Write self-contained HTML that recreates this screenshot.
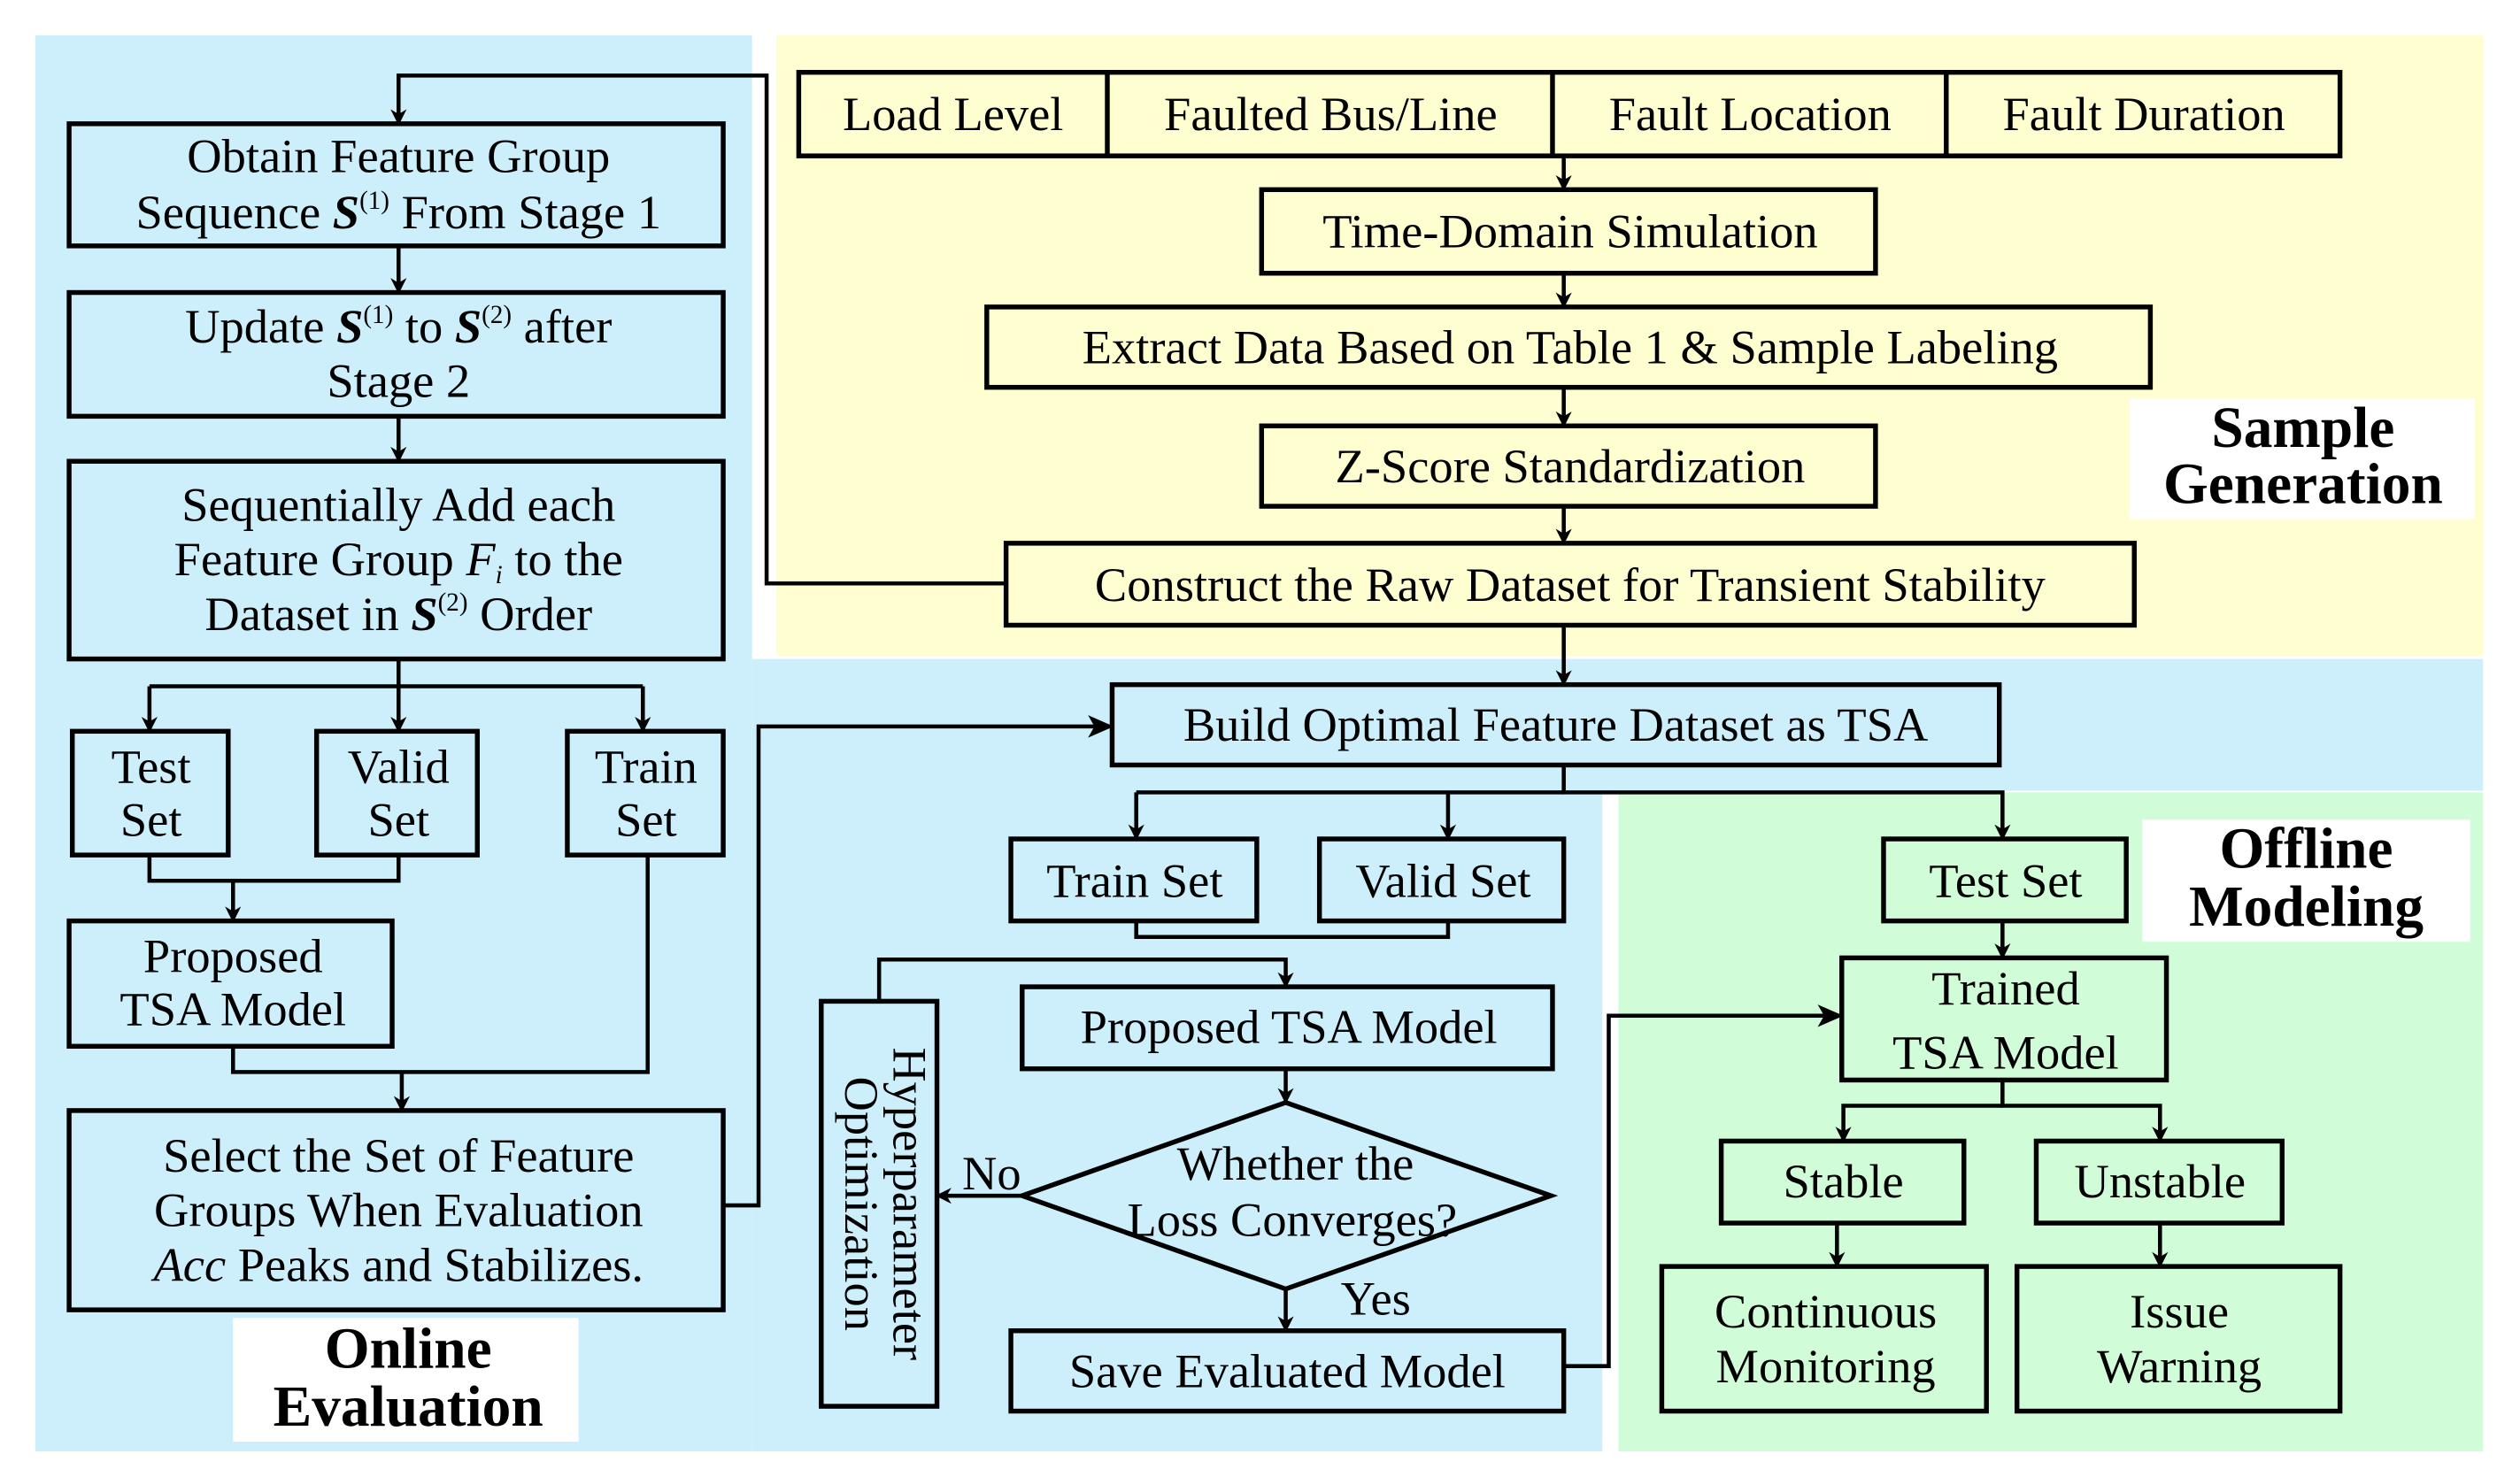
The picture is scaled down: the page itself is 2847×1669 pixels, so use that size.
<!DOCTYPE html>
<html><head><meta charset="utf-8"><style>
html,body{margin:0;padding:0;background:#fff;}
svg{display:block;}
text{font-family:"Liberation Serif",serif;font-size:30px;fill:#000;}
.b{font-weight:bold;font-size:36px;}
</style></head><body>
<svg width="2847" height="1669" viewBox="0 0 1568 919" preserveAspectRatio="none" xmlns="http://www.w3.org/2000/svg">
<defs><marker id="a" markerWidth="10" markerHeight="10" refX="9" refY="5" orient="auto" markerUnits="userSpaceOnUse"><path d="M0,0 L10,5 L0,10 L3,5 z" fill="#000"/></marker>
<marker id="m" markerWidth="16" markerHeight="14" refX="15" refY="7" orient="auto" markerUnits="userSpaceOnUse"><path d="M0,0 L16,7 L0,14 L4,7 z" fill="#000"/></marker></defs>
<rect x="22" y="22" width="446" height="881" fill="#cdeffb"/>
<rect x="468" y="410" width="1077" height="82" fill="#cdeffb"/>
<rect x="468" y="490" width="529" height="413" fill="#cdeffb"/>
<rect x="483" y="22" width="1062" height="386" fill="#fefed0"/>
<rect x="1007" y="493" width="538" height="410" fill="#d0fdd8"/>
<rect x="1325" y="248" width="215" height="75" fill="#fff"/>
<rect x="1333" y="510" width="204" height="76" fill="#fff"/>
<rect x="145" y="820" width="215" height="77" fill="#fff"/>
<text class="b" x="1433" y="278" text-anchor="middle">Sample</text>
<text class="b" x="1433" y="313" text-anchor="middle">Generation</text>
<text class="b" x="1435" y="540" text-anchor="middle">Offline</text>
<text class="b" x="1435" y="576" text-anchor="middle">Modeling</text>
<text class="b" x="254" y="851" text-anchor="middle">Online</text>
<text class="b" x="254" y="887" text-anchor="middle">Evaluation</text>
<g fill="none" stroke="#000" stroke-width="3">
<rect x="497" y="45" width="959" height="52"/>
<line x1="689" y1="45" x2="689" y2="97"/><line x1="966" y1="45" x2="966" y2="97"/><line x1="1211" y1="45" x2="1211" y2="97"/>
<rect x="785" y="118" width="382" height="52"/>
<rect x="614" y="191" width="724" height="50"/>
<rect x="785" y="265" width="382" height="50"/>
<rect x="626" y="338" width="702" height="51"/>
<rect x="692" y="426" width="552" height="50"/>
<rect x="629" y="522" width="153" height="51"/>
<rect x="821" y="522" width="152" height="51"/>
<rect x="1172" y="522" width="151" height="51"/>
<rect x="636" y="614" width="330" height="51"/>
<polygon points="800,686 965,744 800,802 636,744"/>
<rect x="629" y="828" width="344" height="50"/>
<rect x="511" y="623" width="72" height="252"/>
<rect x="1146" y="596" width="202" height="76"/>
<rect x="1071" y="710" width="151" height="51"/>
<rect x="1267" y="710" width="153" height="51"/>
<rect x="1034" y="788" width="202" height="90"/>
<rect x="1255" y="788" width="201" height="90"/>
<rect x="43" y="77" width="407" height="76"/>
<rect x="43" y="182" width="407" height="77"/>
<rect x="43" y="287" width="407" height="123"/>
<rect x="45" y="455" width="97" height="77"/>
<rect x="197" y="455" width="100" height="77"/>
<rect x="353" y="455" width="97" height="77"/>
<rect x="43" y="573" width="201" height="78"/>
<rect x="43" y="691" width="407" height="124"/>
</g>
<g fill="none" stroke="#000" stroke-width="2.5">
<path d="M973,97 V118" marker-end="url(#a)"/>
<path d="M973,170 V191" marker-end="url(#a)"/>
<path d="M973,241 V265" marker-end="url(#a)"/>
<path d="M973,315 V338" marker-end="url(#a)"/>
<path d="M973,389 V426" marker-end="url(#a)"/>
<path d="M626,363 H477 V47 H248 V77" marker-end="url(#a)"/>
<path d="M248,153 V182" marker-end="url(#a)"/>
<path d="M248,259 V287" marker-end="url(#a)"/>
<path d="M248,410 V455" marker-end="url(#a)"/>
<path d="M93,427 H400"/>
<path d="M93,427 V455" marker-end="url(#a)"/>
<path d="M400,427 V455" marker-end="url(#a)"/>
<path d="M93,532 V548 H248 V532"/>
<path d="M145,548 V573" marker-end="url(#a)"/>
<path d="M145,651 V667 H403 V532"/>
<path d="M250,667 V691" marker-end="url(#a)"/>
<path d="M450,750 H472 V452 H692" marker-end="url(#m)"/>
<path d="M973,476 V493 H1246 V522" marker-end="url(#a)"/>
<path d="M707,493 H973"/>
<path d="M707,493 V522" marker-end="url(#a)"/>
<path d="M901,493 V522" marker-end="url(#a)"/>
<path d="M707,573 V583 H901 V573"/>
<path d="M547,623 V597 H800 V614" marker-end="url(#a)"/>
<path d="M800,665 V686" marker-end="url(#a)"/>
<path d="M636,744 H583" marker-end="url(#a)"/>
<path d="M800,802 V828" marker-end="url(#a)"/>
<path d="M973,850 H1001 V632 H1146" marker-end="url(#m)"/>
<path d="M1246,573 V596" marker-end="url(#a)"/>
<path d="M1246,672 V688 H1344 V710" marker-end="url(#a)"/>
<path d="M1246,688 H1147 V710" marker-end="url(#a)"/>
<path d="M1143,761 V788" marker-end="url(#a)"/>
<path d="M1344,761 V788" marker-end="url(#a)"/>
</g>
<g text-anchor="middle">
<text x="593" y="81">Load Level</text>
<text x="828" y="81">Faulted Bus/Line</text>
<text x="1089" y="81">Fault Location</text>
<text x="1334" y="81">Fault Duration</text>
<text x="977" y="154">Time-Domain Simulation</text>
<text x="977" y="226">Extract Data Based on Table 1 &amp; Sample Labeling</text>
<text x="977" y="300">Z-Score Standardization</text>
<text x="977" y="374">Construct the Raw Dataset for Transient Stability</text>
<text x="968" y="461">Build Optimal Feature Dataset as TSA</text>
<text x="706" y="558">Train Set</text>
<text x="898" y="558">Valid Set</text>
<text x="1248" y="558">Test Set</text>
<text x="802" y="649">Proposed TSA Model</text>
<text x="806" y="734">Whether the</text>
<text x="804" y="769">Loss Converges?</text>
<text x="617" y="740">No</text>
<text x="856" y="818">Yes</text>
<text x="801" y="863">Save Evaluated Model</text>
<text transform="translate(556,749) rotate(90)">Hyperparameter</text>
<text transform="translate(526,749) rotate(90)">Optimization</text>
<text x="1248" y="625">Trained</text>
<text x="1248" y="665">TSA Model</text>
<text x="1147" y="745">Stable</text>
<text x="1344" y="745">Unstable</text>
<text x="1136" y="826">Continuous</text>
<text x="1136" y="860">Monitoring</text>
<text x="1356" y="826">Issue</text>
<text x="1356" y="860">Warning</text>
<text x="248" y="107">Obtain Feature Group</text>
<text x="248" y="142">Sequence  <tspan font-weight="bold" font-style="italic">S</tspan><tspan font-size="16" dy="-12">(1)</tspan><tspan dy="12"> From Stage 1</tspan></text>
<text x="248" y="213">Update <tspan font-weight="bold" font-style="italic">S</tspan><tspan font-size="16" dy="-12">(1)</tspan><tspan dy="12"> to </tspan><tspan font-weight="bold" font-style="italic">S</tspan><tspan font-size="16" dy="-12">(2)</tspan><tspan dy="12"> after</tspan></text>
<text x="248" y="247">Stage 2</text>
<text x="248" y="324">Sequentially Add each</text>
<text x="248" y="358">Feature Group <tspan font-style="italic">F</tspan><tspan font-size="16" font-style="italic" dy="5">i</tspan><tspan dy="-5"> to the</tspan></text>
<text x="248" y="392">Dataset in  <tspan font-weight="bold" font-style="italic">S</tspan><tspan font-size="16" dy="-12">(2)</tspan><tspan dy="12"> Order</tspan></text>
<text x="94" y="487">Test</text>
<text x="94" y="520">Set</text>
<text x="248" y="487">Valid</text>
<text x="248" y="520">Set</text>
<text x="402" y="487">Train</text>
<text x="402" y="520">Set</text>
<text x="145" y="605">Proposed</text>
<text x="145" y="638">TSA Model</text>
<text x="248" y="729">Select the Set of Feature</text>
<text x="248" y="763">Groups When Evaluation</text>
<text x="248" y="797"><tspan font-style="italic">Acc</tspan> Peaks and Stabilizes.</text>
</g>
</svg>
</body></html>
